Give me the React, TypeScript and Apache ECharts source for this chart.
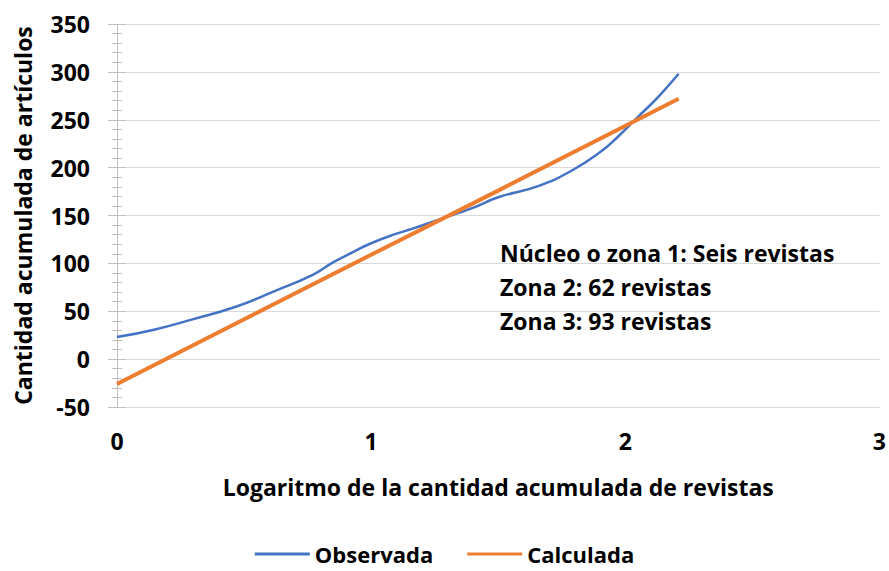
import React, { useEffect, useRef } from "react";
import * as echarts from "echarts";

const observedX = [0, 0.15, 0.29, 0.47, 0.62, 0.77, 0.85, 0.93, 1.0, 1.1, 1.16, 1.27, 1.4, 1.5, 1.66, 1.79, 1.9, 1.97, 2.05, 2.13, 2.21];
const observedY = [23, 31, 41, 55, 71, 88, 101, 112, 121, 131, 136, 146, 158, 169, 181, 197, 216, 232, 253, 274, 298];
const calculatedX = [0, 1.0, 1.5, 2.21];
const calculatedY = [-26, 109, 176, 272];
const annotationLines = ["Núcleo o zona 1: Seis revistas", "Zona 2: 62 revistas", "Zona 3: 93 revistas"];
const seriesNames = ["Observada", "Calculada"];

const FONT = "'Open Sans', sans-serif";
const FS = 23;

export default function App() {
  const ref = useRef<HTMLDivElement>(null);
  useEffect(() => {
    if (!ref.current) return;
    const chart = echarts.init(ref.current, null, { renderer: "svg" });
    const txt = { fontFamily: FONT, fontWeight: "bold" as const, fontSize: FS, color: "#000" };
    const pair = (xs: number[], ys: number[]) => xs.map((x, i) => [x, ys[i]]);
    chart.setOption({
      animation: false,
      backgroundColor: "#fff",
      grid: { left: 117, top: 24, width: 764, height: 383 },
      xAxis: {
        type: "value",
        min: 0,
        max: 3,
        interval: 1,
        name: "Logaritmo de la cantidad acumulada de revistas",
        nameLocation: "middle",
        nameGap: 68,
        nameTextStyle: { ...txt },
        axisLine: { show: false },
        axisTick: { show: false },
        splitLine: { show: false },
        axisLabel: { ...txt, margin: 22 },
      },
      yAxis: [
        {
          type: "value",
          min: -50,
          max: 350,
          interval: 50,
          name: "Cantidad acumulada de artículos",
          nameLocation: "middle",
          nameGap: 83,
          nameRotate: 90,
          nameTextStyle: { ...txt },
          axisLine: { show: true, lineStyle: { color: "#bfbfbf", width: 1 } },
          axisTick: { show: true, length: 9, lineStyle: { color: "#bfbfbf" } },
          minorTick: { show: true, splitNumber: 5, length: 5, lineStyle: { color: "#bfbfbf" } },
          splitLine: { show: true, lineStyle: { color: "#d9d9d9", width: 1 } },
          axisLabel: { ...txt, margin: 27 },
        },
        {
          type: "value",
          position: "left",
          min: -50,
          max: 350,
          interval: 50,
          axisLine: { show: false },
          axisTick: { show: true, inside: true, length: 9, lineStyle: { color: "#bfbfbf" } },
          minorTick: { show: true, splitNumber: 5, length: 5, lineStyle: { color: "#bfbfbf" } },
          splitLine: { show: false },
          axisLabel: { show: false },
        },
      ],
      legend: {
        top: 540,
        left: "center",
        padding: [2, 5, 2, 5],
        itemWidth: 55,
        itemHeight: 3,
        itemGap: 34,
        icon: "rect",
        textStyle: { ...txt, fontSize: 22, lineHeight: 24 },
        data: seriesNames,
      },
      graphic: annotationLines.map((t, i) => ({
        type: "text",
        left: 500,
        top: 241 + i * 34,
        style: { text: t, font: `bold ${FS}px ${FONT}`, fill: "#000" },
      })),
      series: [
        {
          name: seriesNames[0],
          type: "line",
          data: pair(observedX, observedY),
          smooth: true,
          symbol: "none",
          lineStyle: { color: "#4472C4", width: 2.5 },
          itemStyle: { color: "#4472C4" },
        },
        {
          name: seriesNames[1],
          type: "line",
          data: pair(calculatedX, calculatedY),
          symbol: "none",
          lineStyle: { color: "#ED7D31", width: 4 },
          itemStyle: { color: "#ED7D31" },
        },
      ],
    });
    return () => chart.dispose();
  }, []);
  return <div ref={ref} style={{ width: 889, height: 571, position: "absolute", left: 0, top: 0 }} />;
}
